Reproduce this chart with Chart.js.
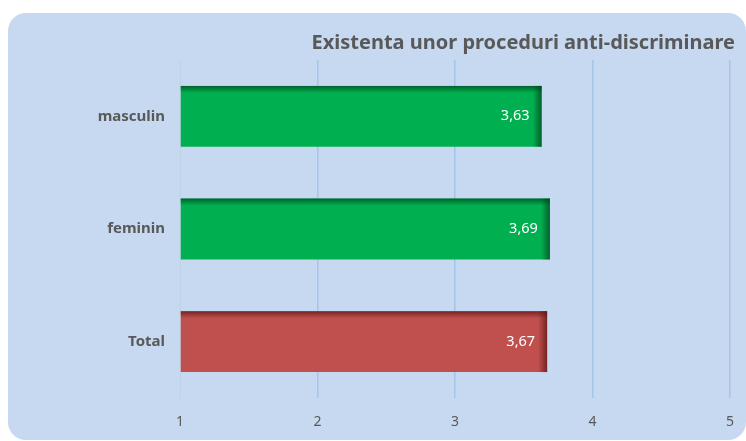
<!DOCTYPE html>
<html>
<head>
<meta charset="utf-8">
<script src="https://cdn.jsdelivr.net/npm/chart.js@4"></script>
<style>
  html, body { margin: 0; padding: 0; background: #fff; }
  #wrap { position: relative; width: 746px; height: 441px; overflow: hidden; }
  #panel {
    position: absolute; left: 8px; top: 13px; width: 738px; height: 427px;
    background: #c6d9f0; border-radius: 18px;
  }
  #chart { position: absolute; left: 0; top: 0; }
</style>
</head>
<body>
<div id="wrap">
  <div id="panel"></div>
  <canvas id="chart" width="746" height="441"></canvas>
</div>
<script>
// --- Data ---
const CATEGORIES = ['masculin', 'feminin', 'Total'];
const VALUES = [3.63, 3.69, 3.67];
const BAR_COLORS = ['#00b050', '#00b050', '#c0504d'];
const SHADE_COLORS = ['rgba(0,70,30,', 'rgba(0,70,30,', 'rgba(90,20,20,'];
const X_TICKS = [1, 2, 3, 4, 5];
const TITLE = 'Existenta unor proceduri anti-discriminare';

const FONT = "'Noto Sans', 'DejaVu Sans', sans-serif";
const TEXT_GRAY = '#595959';

// title drawn at the top right, above the plot
const titleText = {
  id: 'titleText',
  afterDraw(chart) {
    const ctx = chart.ctx;
    ctx.save();
    ctx.font = 'bold 20px ' + FONT;
    ctx.fillStyle = TEXT_GRAY;
    ctx.textAlign = 'right';
    ctx.textBaseline = 'middle';
    ctx.fillText(TITLE, 735, 43);
    ctx.restore();
  }
};

// darker edge along top and right of each bar
const barShade = {
  id: 'barShade',
  afterDatasetsDraw(chart) {
    const ctx = chart.ctx;
    chart.getDatasetMeta(0).data.forEach((bar, i) => {
      const left = Math.min(bar.x, bar.base), right = Math.max(bar.x, bar.base);
      const top = bar.y - bar.height / 2, bottom = bar.y + bar.height / 2;
      const c = SHADE_COLORS[i];
      ctx.save();
      let g = ctx.createLinearGradient(0, top, 0, top + 7);
      g.addColorStop(0, c + '0.75)');
      g.addColorStop(1, c + '0)');
      ctx.fillStyle = g;
      ctx.fillRect(left, top, right - left, 7);
      g = ctx.createLinearGradient(right, 0, right - 9, 0);
      g.addColorStop(0, c + '0.75)');
      g.addColorStop(1, c + '0)');
      ctx.fillStyle = g;
      ctx.fillRect(right - 9, top, 9, bottom - top);
      ctx.restore();
    });
  }
};

// value labels inside the bar end
const valueLabels = {
  id: 'valueLabels',
  afterDatasetsDraw(chart) {
    const ctx = chart.ctx;
    ctx.save();
    ctx.font = '14.5px ' + FONT;
    ctx.fillStyle = '#ffffff';
    ctx.textAlign = 'right';
    ctx.textBaseline = 'middle';
    chart.getDatasetMeta(0).data.forEach((bar, i) => {
      ctx.fillText(VALUES[i].toFixed(2).replace('.', ','), bar.x - 12, bar.y);
    });
    ctx.restore();
  }
};

new Chart(document.getElementById('chart'), {
  type: 'bar',
  data: {
    labels: CATEGORIES,
    datasets: [{
      data: VALUES,
      backgroundColor: BAR_COLORS,
      borderWidth: 0,
      base: 1,
      barPercentage: 0.54,
      categoryPercentage: 1
    }]
  },
  options: {
    indexAxis: 'y',
    responsive: false,
    animation: false,
    layout: { padding: { left: 0, right: 16, top: 60, bottom: 0 } },
    plugins: {
      legend: { display: false },
      tooltip: { enabled: false },
      title: { display: false }
    },
    scales: {
      x: {
        type: 'linear', min: 1, max: 5,
        afterBuildTicks: s => { s.ticks = X_TICKS.map(v => ({ value: v })); },
        afterFit: s => { s.height = 43; s.paddingLeft = 0; s.paddingRight = 0; },
        ticks: { color: TEXT_GRAY, font: { family: FONT, size: 14 }, padding: 16 },
        grid: { color: '#a5c4ea', lineWidth: 1.5, drawTicks: false },
        border: { display: false }
      },
      y: {
        afterFit: s => { s.width = 180; },
        ticks: { color: TEXT_GRAY, font: { family: FONT, size: 15, weight: 'bold' }, padding: 15 },
        grid: { display: false, drawTicks: false },
        border: { display: true, color: '#d0d6de', width: 1.5 }
      }
    }
  },
  plugins: [barShade, valueLabels, titleText]
});
</script>
</body>
</html>
